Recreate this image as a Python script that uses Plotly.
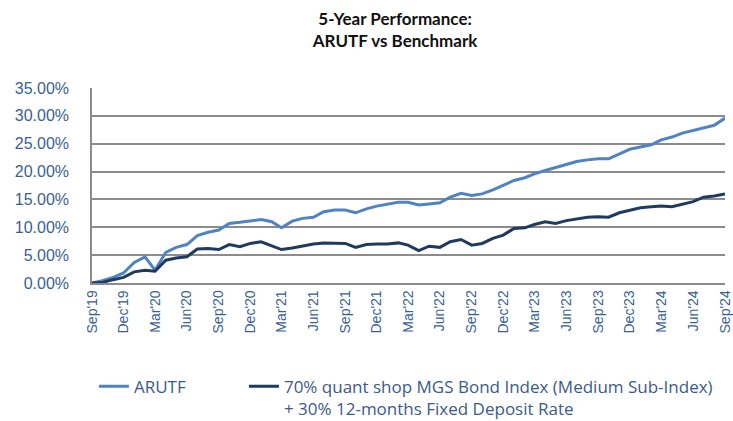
import plotly.graph_objects as go
import pandas as pd

months = pd.date_range("2019-09-01", "2024-09-01", freq="MS")

arutf = [0.0, 0.4, 1.0, 1.8, 3.7, 4.7, 2.3, 5.5, 6.4, 6.9, 8.5, 9.1,
         9.5, 10.7, 10.9, 11.1, 11.4, 11.0, 9.9, 11.1, 11.6, 11.8, 12.8, 13.1,
         13.1, 12.6, 13.3, 13.8, 14.1, 14.5, 14.5, 14.0, 14.2, 14.4, 15.4, 16.1,
         15.7, 16.0, 16.7, 17.6, 18.4, 18.9, 19.6, 20.2, 20.7, 21.2, 21.8, 22.1,
         22.3, 22.3, 23.2, 24.0, 24.4, 24.8, 25.7, 26.2, 26.9, 27.4, 27.9, 28.3,
         29.6]

benchmark = [0.0, 0.1, 0.6, 1.0, 2.0, 2.3, 2.1, 4.1, 4.5, 4.7, 6.1, 6.2,
             6.0, 6.9, 6.5, 7.1, 7.4, 6.6, 6.0, 6.3, 6.7, 7.0, 7.2, 7.2,
             7.1, 6.4, 6.9, 7.0, 7.0, 7.2, 6.8, 5.8, 6.6, 6.4, 7.4, 7.8,
             6.8, 7.1, 8.0, 8.6, 9.8, 9.9, 10.5, 11.0, 10.7, 11.2, 11.5, 11.8,
             11.9, 11.8, 12.6, 13.1, 13.5, 13.7, 13.8, 13.7, 14.2, 14.6, 15.4, 15.6,
             16.0]

tick_labels = ["Sep'19", "Dec'19", "Mar'20", "Jun'20", "Sep'20", "Dec'20", "Mar'21",
               "Jun'21", "Sep'21", "Dec'21", "Mar'22", "Jun'22", "Sep'22", "Dec'22",
               "Mar'23", "Jun'23", "Sep'23", "Dec'23", "Mar'24", "Jun'24", "Sep'24"]
tick_vals = list(months[::3])

y_ticks = [0, 5, 10, 15, 20, 25, 30, 35]

legend_font = dict(family="Open Sans, sans-serif", size=17, color="#3A5A8C")

fig = go.Figure()
fig.add_trace(go.Scatter(x=months, y=arutf, mode="lines", name="ARUTF",
                         line=dict(color="#4F83C4", width=3), legend="legend"))
fig.add_trace(go.Scatter(x=months, y=benchmark, mode="lines",
                         name="70% quant shop MGS Bond Index (Medium Sub-Index)<br>+ 30% 12-months Fixed Deposit Rate",
                         line=dict(color="#1F3A5F", width=3), legend="legend2"))

fig.update_layout(
    width=733, height=421,
    paper_bgcolor="white", plot_bgcolor="white",
    margin=dict(l=92, r=8, t=88, b=138, autoexpand=False),
    title=dict(text="<b>5-Year Performance:<br>ARUTF vs Benchmark</b>",
               x=0.539, xanchor="center", y=0.94, yanchor="top",
               font=dict(family="Lato, Roboto, sans-serif", size=17, color="#111111")),
    showlegend=True,
    legend=dict(x=0.003, xanchor="left", y=-0.44, yanchor="top",
                valign="top", font=legend_font, bgcolor="rgba(0,0,0,0)"),
    legend2=dict(x=0.24, xanchor="left", y=-0.44, yanchor="top",
                 valign="top", font=legend_font, bgcolor="rgba(0,0,0,0)"),
    xaxis=dict(tickvals=tick_vals, ticktext=tick_labels, tickangle=-90,
               range=[months[0], months[-1]],
               showgrid=False, showline=True, linecolor="#8C8C8C", linewidth=1.5,
               ticks="", tickfont=dict(family="Liberation Sans, Arial, sans-serif", size=14, color="#3A5F95")),
    yaxis=dict(range=[0, 35], tickvals=y_ticks, ticktext=[f"{v:.2f}%" for v in y_ticks],
               showgrid=True, gridcolor="#8C8C8C", gridwidth=1.5,
               showline=True, linecolor="#8C8C8C", linewidth=1.5, zeroline=False,
               ticks="", ticklabelstandoff=18,
               tickfont=dict(family="Liberation Sans, Arial, sans-serif", size=16, color="#3A5F95")),
)

fig.write_html("out.html", config={"displayModeBar": False},
               post_script="document.body.style.margin='0';")
